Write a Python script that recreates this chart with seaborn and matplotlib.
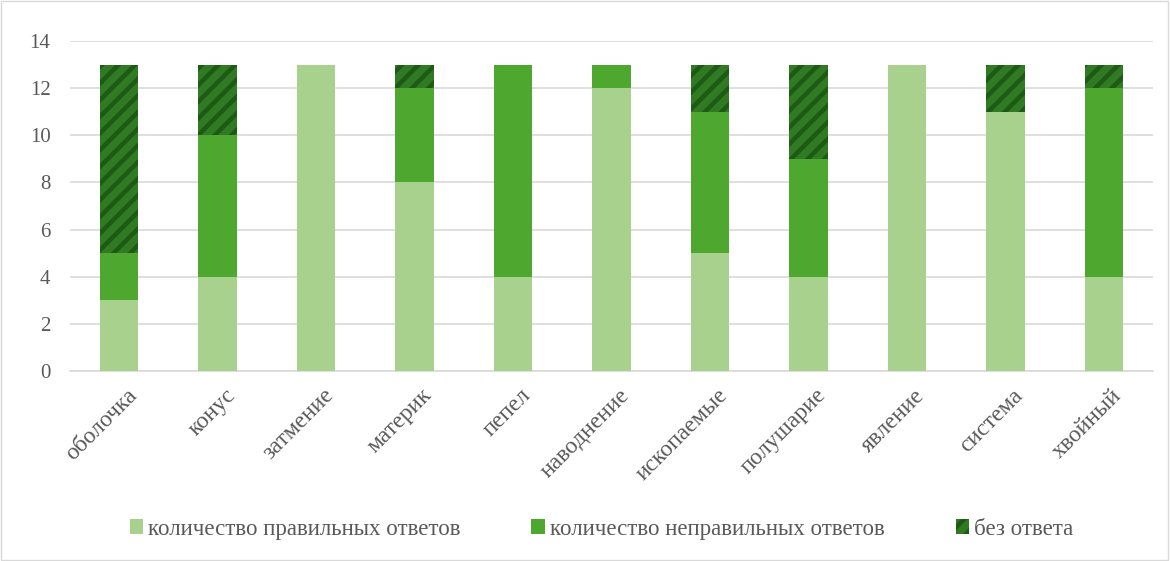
import matplotlib
matplotlib.use("Agg")
import matplotlib.pyplot as plt
import matplotlib.transforms as mtransforms
import numpy as np
import pandas as pd
import seaborn as sns

words = ["оболочка", "конус", "затмение", "материк", "пепел", "наводнение",
         "ископаемые", "полушарие", "явление", "система", "хвойный"]
correct = [3, 4, 13, 8, 4, 12, 5, 4, 13, 11, 4]
wrong = [2, 6, 0, 4, 9, 1, 6, 5, 0, 0, 8]
no_answer = [8, 3, 0, 1, 0, 0, 2, 4, 0, 2, 1]

series_names = ["количество правильных ответов", "количество неправильных ответов", "без ответа"]
colors = ["#A9D18E", "#4EA72E", "#2F7A22"]

df = pd.DataFrame({"word": words, "correct": correct, "wrong": wrong, "none": no_answer})

sns.set_style("white")
plt.rcParams["font.family"] = ["Liberation Serif", "DejaVu Serif"]
plt.rcParams["hatch.linewidth"] = 3.2

fig = plt.figure(figsize=(11.7, 5.61), dpi=100)
ax = fig.add_axes([0.0598, 0.3387, 0.9257, 0.5883])

bottom = np.zeros(len(words))
for col, name, color in zip(["correct", "wrong", "none"], series_names, colors):
    sns.barplot(data=df, x="word", y=col, color=color, saturation=1, width=0.39,
                bottom=bottom, linewidth=0, ax=ax, label=name, zorder=3)
    bottom = bottom + df[col].to_numpy()
if ax.get_legend() is not None:
    ax.get_legend().remove()

# hatch the "no answer" segments
for p in ax.containers[2]:
    p.set_hatch("//")
    p.set_edgecolor("#1D5A14")
    p.set_linewidth(0)

ax.set_ylim(0, 14)
ax.set_yticks(range(0, 15, 2))
ax.grid(axis="y", color="#D9D9D9", linewidth=1.2, zorder=0)
ax.set_axisbelow(True)
for s in ["top", "right", "left"]:
    ax.spines[s].set_visible(False)
ax.spines["bottom"].set_color("#D9D9D9")
ax.spines["bottom"].set_linewidth(1.2)
ax.set_xlabel("")
ax.set_ylabel("")
ax.tick_params(axis="y", length=0, labelsize=15, colors="#595959", pad=14)
ax.tick_params(axis="x", length=0, labelsize=17, colors="#595959", pad=10)
shift = mtransforms.ScaledTranslation(7 / 100, 0, fig.dpi_scale_trans)
for lbl in ax.get_xticklabels():
    lbl.set_rotation(45)
    lbl.set_ha("right")
    lbl.set_rotation_mode("anchor")
    lbl.set_transform(lbl.get_transform() + shift)

handles, labels = ax.get_legend_handles_labels()
leg = fig.legend(handles, labels, loc="center", bbox_to_anchor=(0.514, 0.057), ncol=3,
                 frameon=False, fontsize=16.5, handlelength=0.6, handleheight=0.6,
                 columnspacing=3.1, handletextpad=0.2, labelcolor="#595959")

# outer chart border
fig.patches.append(plt.Rectangle((0.001, 0.002), 0.997, 0.996, transform=fig.transFigure,
                                 fill=False, edgecolor="#D9D9D9", linewidth=1))

fig.savefig("out.png", dpi=100)
